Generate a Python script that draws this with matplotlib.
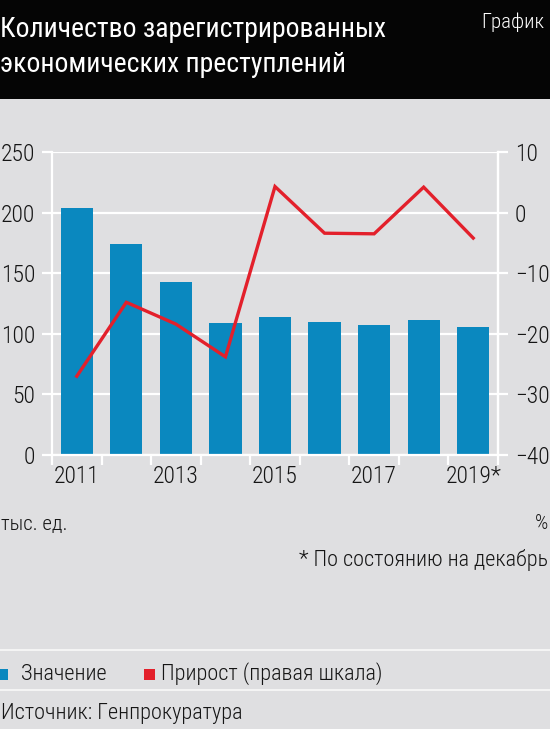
import numpy as np
import matplotlib
matplotlib.use("Agg")
import matplotlib.pyplot as plt
from matplotlib.patches import Rectangle
from matplotlib.lines import Line2D

plt.rcParams['font.family'] = ['Roboto Condensed', 'DejaVu Sans']
plt.rcParams['font.weight'] = 'light'

years = ["2011", "2012", "2013", "2014", "2015", "2016", "2017", "2018", "2019*"]
values = [204, 174, 143, 109, 114, 110, 107, 111, 106]       # тыс. ед.
growth = [-27.0, -14.8, -18.4, -23.8, 4.3, -3.4, -3.5, 4.2, -4.2]  # %
left_ticks = [0, 50, 100, 150, 200, 250]
right_ticks = [-40, -30, -20, -10, 0, 10]

BG = "#dfdfe1"
BLUE = "#0a88bf"
RED = "#e3202b"
INK = "#151515"
W, H = 550, 729

fig = plt.figure(figsize=(W / 100, H / 100), dpi=100, facecolor=BG)

def px(x, y):
    return x / W, 1 - y / H

# header band
fig.patches.append(Rectangle((0, 1 - 99 / H), 1, 99 / H, transform=fig.transFigure,
                             facecolor="#050505", edgecolor="none", zorder=0))
fig.text(*px(0, 37), "Количество зарегистрированных", color="white", fontsize=20,
         fontweight="normal", ha="left", va="baseline")
fig.text(*px(0, 72), "экономических преступлений", color="white", fontsize=20,
         fontweight="normal", ha="left", va="baseline")
fig.text(*px(481, 28), "График", color="white", fontsize=15, ha="left", va="baseline")

# chart
ax = fig.add_axes([52 / W, 1 - 455 / H, (498 - 52) / W, (455 - 152) / H])
ax.set_facecolor(BG)
x = np.arange(len(years))
ax.bar(x, values, width=0.65, color=BLUE, zorder=2)
ax.set_xlim(-0.5, len(years) - 0.5)
ax.set_ylim(0, 250)
ax.set_yticks(left_ticks)
ax.grid(True, axis="y", color="white", linewidth=1.6, zorder=1)
ax.set_xticks(x[::2])
ax.set_xticklabels(years[::2])
ax.set_xticks(np.arange(-0.5, len(years), 1), minor=True)
ax.tick_params(axis="x", which="major", length=0, pad=7, labelsize=17, colors=INK)
ax.tick_params(axis="x", which="minor", length=7, width=1.6, color="white")
ax.tick_params(axis="y", length=7, width=1.6, color="white", labelsize=17,
               labelcolor=INK, pad=5)
ax.spines["top"].set_visible(False)
for s in ["left", "right", "bottom"]:
    ax.spines[s].set_color("white")
    ax.spines[s].set_linewidth(1.6)

ax2 = ax.twinx()
ax2.plot(x, growth, color=RED, linewidth=2.4, solid_joinstyle="miter", zorder=3)
ax2.set_ylim(-40, 10)
ax2.set_yticks(right_ticks)
ax2.tick_params(axis="y", length=7, width=1.6, color="white", labelsize=17,
                labelcolor=INK, pad=5)
for s in ["top", "bottom", "left"]:
    ax2.spines[s].set_visible(False)
ax2.spines["right"].set_color("white")
ax2.spines["right"].set_linewidth(1.6)

# units and note
fig.text(*px(1, 529), "тыс. ед.", fontsize=15, color=INK, ha="left", va="baseline")
fig.text(*px(548, 529), "%", fontsize=15, color=INK, ha="right", va="baseline")
fig.text(*px(548, 566), "* По состоянию на декабрь", fontsize=16, color=INK,
         ha="right", va="baseline")

# separators
for yy in [650, 690]:
    fig.add_artist(Line2D([0, 1], [1 - yy / H] * 2, color="#f4f4f4", linewidth=1.5))

# legend
fig.patches.append(Rectangle(px(-3, 680), 11 / W, 11 / H, transform=fig.transFigure,
                             facecolor=BLUE, edgecolor="none"))
fig.text(*px(21, 680), "Значение", fontsize=16, color=INK, ha="left", va="baseline")
fig.patches.append(Rectangle(px(144, 680), 11 / W, 11 / H, transform=fig.transFigure,
                             facecolor=RED, edgecolor="none"))
fig.text(*px(161, 680), "Прирост (правая шкала)", fontsize=16, color=INK,
         ha="left", va="baseline")

fig.text(*px(1, 719), "Источник: Генпрокуратура", fontsize=16, color=INK,
         ha="left", va="baseline")

fig.savefig("out.png", dpi=100, facecolor=BG)
